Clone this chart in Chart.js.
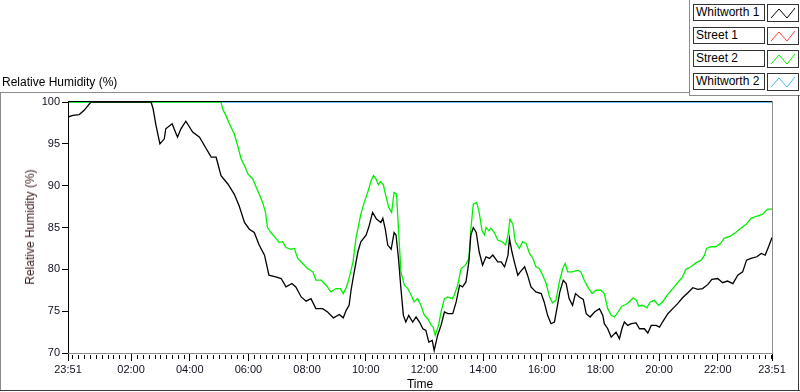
<!DOCTYPE html>
<html>
<head>
<meta charset="utf-8">
<script src="https://cdn.jsdelivr.net/npm/chart.js@4"></script>
<style>
	body { margin: 0; background: #fff; }
	#wrap { position: relative; width: 800px; height: 392px; font-family: "Liberation Sans", Arial, sans-serif; overflow: hidden; }
	#myChart { position: absolute; left: 0; top: 0; }
	.txt { position: absolute; font-size: 12px; line-height: 14px; color: #000; white-space: nowrap; }
	#topTitle { left: 2px; top: 75px; }
	#xTitle { left: 420px; top: 384px; transform: translate(-50%, -50%); }
	#yTitle { left: 30px; top: 227px; transform: translate(-50%, -50%) rotate(-90deg); color: #3a1c1c; }
	.legName { position: absolute; left: 693px; width: 68px; height: 15px; border: 1px solid #333; background: #fff; font-size: 12px; line-height: 15px; padding-left: 2px; box-sizing: content-box; white-space: nowrap; }
	.legLine { position: absolute; left: 767px; width: 30px; height: 16px; border: 1px solid #333; background: #fff; }
</style>
</head>
<body>
<div id="wrap">
	<canvas id="myChart" width="800" height="392"></canvas>
	<div class="txt" id="topTitle">Relative Humidity (%)</div>
	<div class="txt" id="xTitle">Time</div>
	<div class="txt" id="yTitle">Relative Humidity (%)</div>
	<div id="legend"></div>
</div>
<script>
"use strict";

// series names and colours, in LabVIEW plot order
const seriesNames = ["Whitworth 1", "Street 1", "Street 2", "Whitworth 2"];
const seriesColors = ["#000000", "#ff3c3c", "#00f000", "#3cb4f0"];

// time axis in minutes after 23:51
const tickMinutes = [0, 129, 249, 369, 489, 609, 729, 849, 969, 1089, 1209, 1329, 1440];
const tickLabels = ["23:51", "02:00", "04:00", "06:00", "08:00", "10:00", "12:00", "14:00", "16:00", "18:00", "20:00", "22:00", "23:51"];
const minorTickStart = 9;
const minorTickStep = 12;
const yTicks = [70, 75, 80, 85, 90, 95, 100];

const whitworth1Minutes = [0, 10, 23, 33, 47, 170, 174, 180, 188, 197,
	200, 213, 217, 224, 231, 241, 255, 269, 282, 289,
	293, 303, 313, 327, 340, 350, 361, 371, 381, 391,
	402, 411, 425, 436, 446, 458, 466, 477, 487, 497,
	507, 521, 531, 543, 555, 563, 569, 575, 579, 583,
	593, 599, 610, 616, 623, 631, 640, 644, 649, 654,
	661, 667, 671, 676, 681, 686, 691, 697, 705, 712,
	719, 726, 732, 738, 745, 749, 756, 763, 770, 777,
	787, 794, 801, 807, 814, 820, 824, 829, 835, 841,
	848, 855, 862, 869, 879, 886, 893, 900, 903, 908,
	913, 920, 925, 934, 940, 947, 957, 968, 974, 981,
	988, 995, 1000, 1006, 1013, 1019, 1025, 1032, 1038, 1046,
	1054, 1060, 1068, 1077, 1087, 1094, 1097, 1104, 1111, 1121,
	1128, 1133, 1138, 1145, 1152, 1162, 1169, 1179, 1186, 1193,
	1203, 1210, 1216, 1227, 1237, 1247, 1257, 1268, 1278, 1288,
	1298, 1309, 1317, 1329, 1339, 1349, 1360, 1370, 1380, 1388,
	1397, 1409, 1418, 1426, 1433, 1440];
const whitworth1Values = [98.2, 98.4, 98.5, 99.0, 100, 100, 99.2, 97.2, 95.0, 95.6,
	96.8, 97.4, 96.8, 95.8, 96.8, 97.7, 96.4, 95.8, 94.5, 93.8,
	93.4, 93.4, 91.2, 90.2, 89.0, 87.6, 85.6, 84.8, 84.4, 82.9,
	81.7, 79.3, 79.1, 78.9, 77.9, 78.3, 77.9, 76.7, 76.2, 76.5,
	75.3, 75.3, 74.9, 74.2, 74.6, 74.2, 75.1, 75.7, 77.5, 78.9,
	82.1, 83.3, 84.1, 85.2, 86.8, 86.0, 85.6, 86.1, 84.8, 82.9,
	82.4, 84.4, 84.1, 81.3, 77.7, 74.5, 73.7, 74.5, 73.7, 74.3,
	73.7, 72.9, 72.7, 71.3, 71.5, 70.3, 72.1, 73.3, 74.9, 74.7,
	74.7, 76.1, 78.1, 77.9, 78.5, 80.9, 84.1, 85.0, 84.4, 82.1,
	80.5, 81.5, 81.3, 81.7, 80.9, 80.9, 80.3, 81.7, 83.7, 82.1,
	80.9, 79.3, 79.7, 80.3, 79.3, 77.9, 77.3, 77.1, 76.1, 74.5,
	73.5, 73.7, 75.3, 77.3, 78.7, 78.3, 76.5, 75.7, 77.1, 76.7,
	76.4, 74.7, 74.3, 74.9, 75.3, 74.5, 73.5, 72.9, 71.9, 72.5,
	71.7, 72.9, 73.7, 73.3, 73.5, 73.6, 72.9, 72.9, 72.4, 73.3,
	73.3, 73.1, 73.7, 74.7, 75.3, 75.9, 76.6, 77.2, 77.8, 77.6,
	77.7, 78.2, 78.8, 78.9, 78.4, 78.6, 78.3, 79.3, 79.7, 81.1,
	81.3, 81.5, 81.9, 81.7, 82.7, 83.8];

const street1Minutes = [];
const street1Values = [];

const street2Minutes = [0, 313, 316, 323, 330, 340, 347, 354, 361, 368,
	378, 385, 391, 398, 404, 408, 415, 424, 432, 439,
	446, 456, 463, 470, 480, 490, 501, 507, 518, 528,
	538, 548, 557, 563, 569, 574, 579, 583, 589, 599,
	606, 613, 620, 625, 630, 635, 639, 645, 650, 656,
	662, 667, 672, 676, 681, 688, 695, 702, 708, 715,
	722, 729, 736, 743, 747, 751, 758, 763, 770, 777,
	786, 790, 797, 804, 813, 820, 824, 829, 836, 841,
	847, 852, 855, 861, 865, 872, 879, 888, 895, 900,
	904, 910, 915, 923, 930, 937, 944, 951, 957, 964,
	971, 978, 985, 991, 998, 1005, 1012, 1017, 1022, 1032,
	1043, 1049, 1056, 1063, 1072, 1080, 1090, 1097, 1104, 1111,
	1118, 1125, 1133, 1141, 1148, 1156, 1163, 1167, 1175, 1184,
	1191, 1199, 1208, 1216, 1227, 1237, 1247, 1257, 1264, 1274,
	1285, 1295, 1302, 1306, 1315, 1325, 1335, 1342, 1356, 1366,
	1376, 1388, 1397, 1411, 1421, 1431, 1440];
const street2Values = [100, 100, 99.2, 98.4, 97.4, 96.2, 94.8, 93.2, 92.4, 91.4,
	90.8, 89.8, 89.0, 88.0, 86.8, 85.0, 84.4, 83.8, 83.2, 83.3,
	82.6, 82.4, 82.5, 81.3, 80.7, 80.1, 79.7, 78.7, 78.7, 78.1,
	77.3, 77.7, 77.7, 77.1, 77.8, 78.7, 79.9, 80.9, 83.7, 86.6,
	88.0, 89.2, 90.6, 91.2, 90.8, 90.1, 90.5, 90.1, 88.8, 87.4,
	86.8, 89.2, 89.0, 84.8, 79.7, 78.1, 77.7, 76.9, 76.1, 76.5,
	75.7, 74.5, 74.1, 73.3, 73.1, 72.1, 73.3, 74.9, 76.5, 76.7,
	76.5, 76.9, 78.1, 80.1, 80.5, 81.3, 84.8, 87.8, 88.0, 86.8,
	84.6, 84.1, 85.0, 84.6, 84.9, 84.4, 83.5, 83.3, 82.9, 84.1,
	86.0, 85.4, 83.3, 82.5, 83.3, 83.1, 81.9, 81.3, 80.3, 80.1,
	79.3, 78.3, 76.7, 76.0, 76.3, 78.5, 80.1, 80.7, 79.7, 79.7,
	79.9, 79.7, 78.7, 77.9, 77.1, 77.5, 77.5, 77.1, 75.3, 74.5,
	74.3, 74.9, 75.6, 75.8, 76.1, 76.6, 76.3, 75.6, 75.7, 75.4,
	76.1, 76.3, 75.7, 76.1, 77.0, 77.7, 78.4, 79.1, 80.0, 80.3,
	80.8, 81.1, 81.7, 82.5, 82.7, 82.7, 83.1, 83.7, 84.0, 84.4,
	84.9, 85.4, 86.1, 86.4, 86.6, 87.2, 87.2];

const whitworth2Minutes = [0, 1440];
const whitworth2Values = [100, 100];

const seriesMinutes = [whitworth1Minutes, street1Minutes, street2Minutes, whitworth2Minutes];
const seriesValues = [whitworth1Values, street1Values, street2Values, whitworth2Values];

function toPoints(minutes, values) {
	return minutes.map(function (m, i) {
		return { x: m, y: values[i] };
	});
}

function buildLegend() {
	const legend = document.getElementById("legend");
	seriesNames.forEach(function (name, i) {
		const top = 4 + i * 23;
		const nameBox = document.createElement("div");
		nameBox.className = "legName";
		nameBox.style.top = top + "px";
		nameBox.textContent = name;
		legend.appendChild(nameBox);

		const lineBox = document.createElement("div");
		lineBox.className = "legLine";
		lineBox.style.top = top + "px";
		lineBox.innerHTML = '<svg width="30" height="16"><polyline points="3,13 11,4 19,13 27,3" fill="none" stroke="' +
			seriesColors[i] + '" stroke-width="1"/></svg>';
		legend.appendChild(lineBox);
	});
}

// frame lines and the small time ticks, LabVIEW style
const framePlugin = {
	id: "frame",
	beforeDraw(chart) {
		const ctx = chart.ctx;
		ctx.save();
		ctx.fillStyle = "#fff";
		ctx.fillRect(0, 0, chart.width, chart.height);
		ctx.fillStyle = "#8c8c8c";
		ctx.fillRect(0, 92, 689, 1);
		ctx.fillRect(0, 92, 1, 299);
		ctx.fillRect(689, 0, 1, 96);
		ctx.fillRect(689, 95, 111, 1);
		ctx.fillStyle = "#3c3c3c";
		ctx.fillRect(0, 390, 800, 1);
		ctx.fillRect(798, 95, 1, 296);
		ctx.restore();
	},
	afterDraw(chart) {
		const ctx = chart.ctx;
		const area = chart.chartArea;
		const xScale = chart.scales.x;
		const left = Math.round(area.left);
		const right = Math.round(area.right);
		const top = Math.round(area.top);
		const bottom = Math.round(area.bottom);
		ctx.save();
		ctx.fillStyle = "#000";
		ctx.fillRect(left, top - 1, right - left + 1, 1);
		ctx.fillRect(left, top - 1, 1, bottom - top + 2);
		ctx.fillStyle = "#8c8c8c";
		ctx.fillRect(left, bottom, right - left + 1, 1);
		ctx.fillRect(right, top - 1, 1, bottom - top + 2);
		ctx.fillStyle = "#000";
		for (let m = minorTickStart; m < 1440; m += minorTickStep) {
			if (tickMinutes.includes(m)) continue;
			const px = Math.round(xScale.getPixelForValue(m));
			ctx.fillRect(px, bottom + 2, 1, 4);
		}
		ctx.restore();
	},
};

function generateHumidityChart() {
	const ctx = document.getElementById("myChart");

	const datasets = seriesNames.map(function (name, i) {
		return {
			label: name,
			data: toPoints(seriesMinutes[i], seriesValues[i]),
			borderColor: seriesColors[i],
			borderWidth: 1.3,
			pointRadius: 0,
			tension: 0,
			fill: false,
		};
	});

	new Chart(ctx, {
		type: "line",
		data: { datasets: datasets },
		options: {
			responsive: false,
			animation: false,
			events: [],
			layout: { padding: { top: 102, right: 28, left: 0, bottom: 0 } },
			plugins: {
				legend: { display: false },
				tooltip: { enabled: false },
			},
			scales: {
				x: {
					type: "linear",
					min: 0,
					max: 1440,
					afterFit: function (scale) { scale.height = 39; },
					afterBuildTicks: function (scale) {
						scale.ticks = tickMinutes.map(function (v) { return { value: v }; });
					},
					ticks: {
						autoSkip: false,
						maxRotation: 0,
						padding: 2,
						color: "#101020",
						font: { family: "'Liberation Sans', Arial, sans-serif", size: 11 },
						callback: function (value, index) { return tickLabels[index]; },
					},
					grid: { drawOnChartArea: false, tickLength: 8, color: "#000" },
					border: { display: false },
				},
				y: {
					min: 70,
					max: 100,
					afterFit: function (scale) { scale.width = 68; },
					afterBuildTicks: function (scale) {
						scale.ticks = yTicks.map(function (v) { return { value: v }; });
					},
					ticks: {
						padding: 2,
						color: "#101020",
						font: { family: "'Liberation Sans', Arial, sans-serif", size: 11 },
					},
					grid: { drawOnChartArea: false, tickLength: 6, color: "#000" },
					border: { display: false },
				},
			},
		},
		plugins: [framePlugin],
	});
}

buildLegend();
generateHumidityChart();
</script>
</body>
</html>
